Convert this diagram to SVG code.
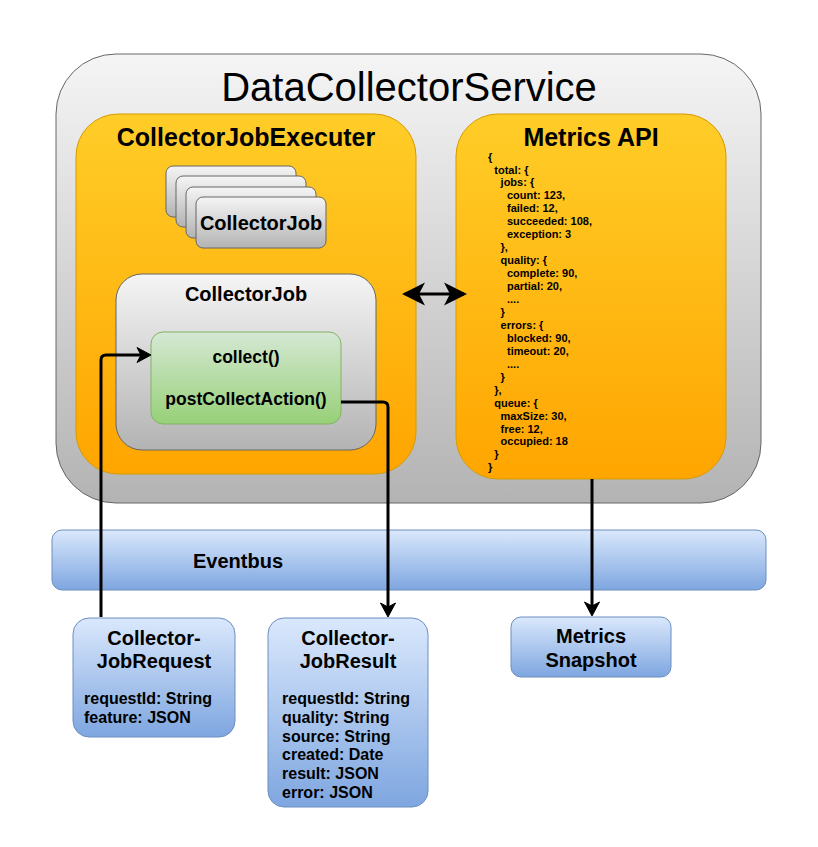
<svg xmlns="http://www.w3.org/2000/svg" width="818" height="847" viewBox="0 0 818 847">
<style>
text{font-family:"Liberation Sans",Arial,sans-serif;fill:#000}
.b{font-weight:bold}
.c{text-anchor:middle}
.gray{fill:url(#gGray);stroke:#666;stroke-width:1}
.orange{fill:url(#gOrange);stroke:#d79b00;stroke-width:1}
.blue{fill:url(#gBlue);stroke:#6c8ebf;stroke-width:1}
.green{fill:url(#gGreen);stroke:#82b366;stroke-width:1}
.conn{fill:none;stroke:#000;stroke-width:3}
.json{font-size:11px;font-weight:bold}
</style>
<defs>
<linearGradient id="gGray" x1="0" y1="0" x2="0" y2="1"><stop offset="0" stop-color="#f5f5f5"/><stop offset="1" stop-color="#b3b3b3"/></linearGradient>
<linearGradient id="gOrange" x1="0" y1="0" x2="0" y2="1"><stop offset="0" stop-color="#ffcd28"/><stop offset="1" stop-color="#ffa500"/></linearGradient>
<linearGradient id="gBlue" x1="0" y1="0" x2="0" y2="1"><stop offset="0" stop-color="#dae8fc"/><stop offset="1" stop-color="#7ea6e0"/></linearGradient>
<linearGradient id="gGreen" x1="0" y1="0" x2="0" y2="1"><stop offset="0" stop-color="#d5e8d4"/><stop offset="1" stop-color="#97d077"/></linearGradient>
<marker id="arr" markerUnits="userSpaceOnUse" markerWidth="30" markerHeight="30" refX="0" refY="0" orient="auto" overflow="visible" viewBox="-20 -15 30 30">
<path d="M3,0 L-11,-7.5 L-7,0 L-11,7.5 Z" fill="#000" stroke="#000" stroke-width="1"/>
</marker>
<marker id="big" markerUnits="userSpaceOnUse" markerWidth="40" markerHeight="40" refX="0" refY="0" orient="auto-start-reverse" overflow="visible" viewBox="-30 -20 40 40">
<path d="M3,0 L-20,-11.5 L-14,0 L-20,11.5 Z" fill="#000"/>
</marker>
</defs>

<g id="DataCollectorService">
<rect class="gray" x="56" y="54" width="705" height="449" rx="60" ry="60"/>
<text x="409" y="101" class="c" font-size="40">DataCollectorService</text>
</g>

<g id="CollectorJobExecuter">
<rect class="orange" x="76" y="114" width="340" height="360" rx="42" ry="42"/>
<text x="246" y="146" class="b c" font-size="25">CollectorJobExecuter</text>
</g>

<g id="CollectorJobStack">
<rect class="gray" x="166" y="166" width="130" height="51" rx="7" ry="7"/>
<rect class="gray" x="176" y="176" width="130" height="51" rx="7" ry="7"/>
<rect class="gray" x="186" y="187" width="130" height="51" rx="7" ry="7"/>
<rect class="gray" x="196" y="197" width="130" height="51" rx="7" ry="7"/>
<text x="261" y="230" class="b c" font-size="20">CollectorJob</text>
</g>

<g id="CollectorJob">
<rect class="gray" x="116" y="274" width="260" height="176" rx="26" ry="26"/>
<text x="246" y="301" class="b c" font-size="20">CollectorJob</text>
</g>

<g id="CollectorMethods">
<rect class="green" x="151" y="332" width="190" height="92" rx="12" ry="12"/>
<text x="246" y="363" class="b c" font-size="17.5">collect()</text>
<text x="246" y="405" class="b c" font-size="17.5">postCollectAction()</text>
</g>

<g id="MetricsAPI">
<rect class="orange" x="456" y="114" width="270" height="365" rx="42" ry="42"/>
<text x="591" y="146" class="b c" font-size="25">Metrics API</text>
<text class="json">
<tspan x="488" y="160.5">{</tspan>
<tspan x="494.3" y="173.5">total: {</tspan>
<tspan x="500.6" y="186.4">jobs: {</tspan>
<tspan x="507" y="199.4">count: 123,</tspan>
<tspan x="507" y="212.3">failed: 12,</tspan>
<tspan x="507" y="225.3">succeeded: 108,</tspan>
<tspan x="507" y="238.2">exception: 3</tspan>
<tspan x="500.6" y="251.2">},</tspan>
<tspan x="500.6" y="264.1">quality: {</tspan>
<tspan x="507" y="277.1">complete: 90,</tspan>
<tspan x="507" y="290">partial: 20,</tspan>
<tspan x="507" y="303">....</tspan>
<tspan x="500.6" y="315.9">}</tspan>
<tspan x="500.6" y="328.9">errors: {</tspan>
<tspan x="507" y="341.8">blocked: 90,</tspan>
<tspan x="507" y="354.8">timeout: 20,</tspan>
<tspan x="507" y="367.7">....</tspan>
<tspan x="500.6" y="380.7">}</tspan>
<tspan x="494.3" y="393.6">},</tspan>
<tspan x="494.3" y="406.6">queue: {</tspan>
<tspan x="500.6" y="419.5">maxSize: 30,</tspan>
<tspan x="500.6" y="432.5">free: 12,</tspan>
<tspan x="500.6" y="445.4">occupied: 18</tspan>
<tspan x="494.3" y="458.4">}</tspan>
<tspan x="488" y="471.3">}</tspan>
</text>
</g>

<g id="Eventbus">
<rect class="blue" x="52" y="530" width="714" height="60" rx="10" ry="10"/>
<text x="238" y="568" class="b c" font-size="20">Eventbus</text>
</g>

<g id="CollectorJobRequest">
<rect class="blue" x="73" y="618" width="162" height="119" rx="16" ry="16"/>
<text x="154" y="645" class="b c" font-size="20">Collector-</text>
<text x="154" y="668" class="b c" font-size="20">JobRequest</text>
<text x="84" y="704" class="b" font-size="16">requestId: String</text>
<text x="84" y="722.8" class="b" font-size="16">feature: JSON</text>
</g>

<g id="CollectorJobResult">
<rect class="blue" x="268" y="618" width="160" height="189" rx="16" ry="16"/>
<text x="348" y="645" class="b c" font-size="20">Collector-</text>
<text x="348" y="668" class="b c" font-size="20">JobResult</text>
<text x="282" y="704" class="b" font-size="16">requestId: String</text>
<text x="282" y="722.8" class="b" font-size="16">quality: String</text>
<text x="282" y="741.6" class="b" font-size="16">source: String</text>
<text x="282" y="760.4" class="b" font-size="16">created: Date</text>
<text x="282" y="779.2" class="b" font-size="16">result: JSON</text>
<text x="282" y="798" class="b" font-size="16">error: JSON</text>
</g>

<g id="MetricsSnapshot">
<rect class="blue" x="511" y="617" width="160" height="60" rx="10" ry="10"/>
<text x="591" y="643" class="b c" font-size="20">Metrics</text>
<text x="591" y="667" class="b c" font-size="20">Snapshot</text>
</g>

<g id="connectors">
<path class="conn" d="M101,617 L101,360 Q101,355 106,355 L148,355" marker-end="url(#arr)"/>
<path class="conn" d="M341,402 L383,402 Q388,402 388,407 L388,614" marker-end="url(#arr)"/>
<path class="conn" d="M592,479 L592,613" marker-end="url(#arr)"/>
<path class="conn" d="M405,294 L464,294" marker-start="url(#big)" marker-end="url(#big)"/>
</g>
</svg>
